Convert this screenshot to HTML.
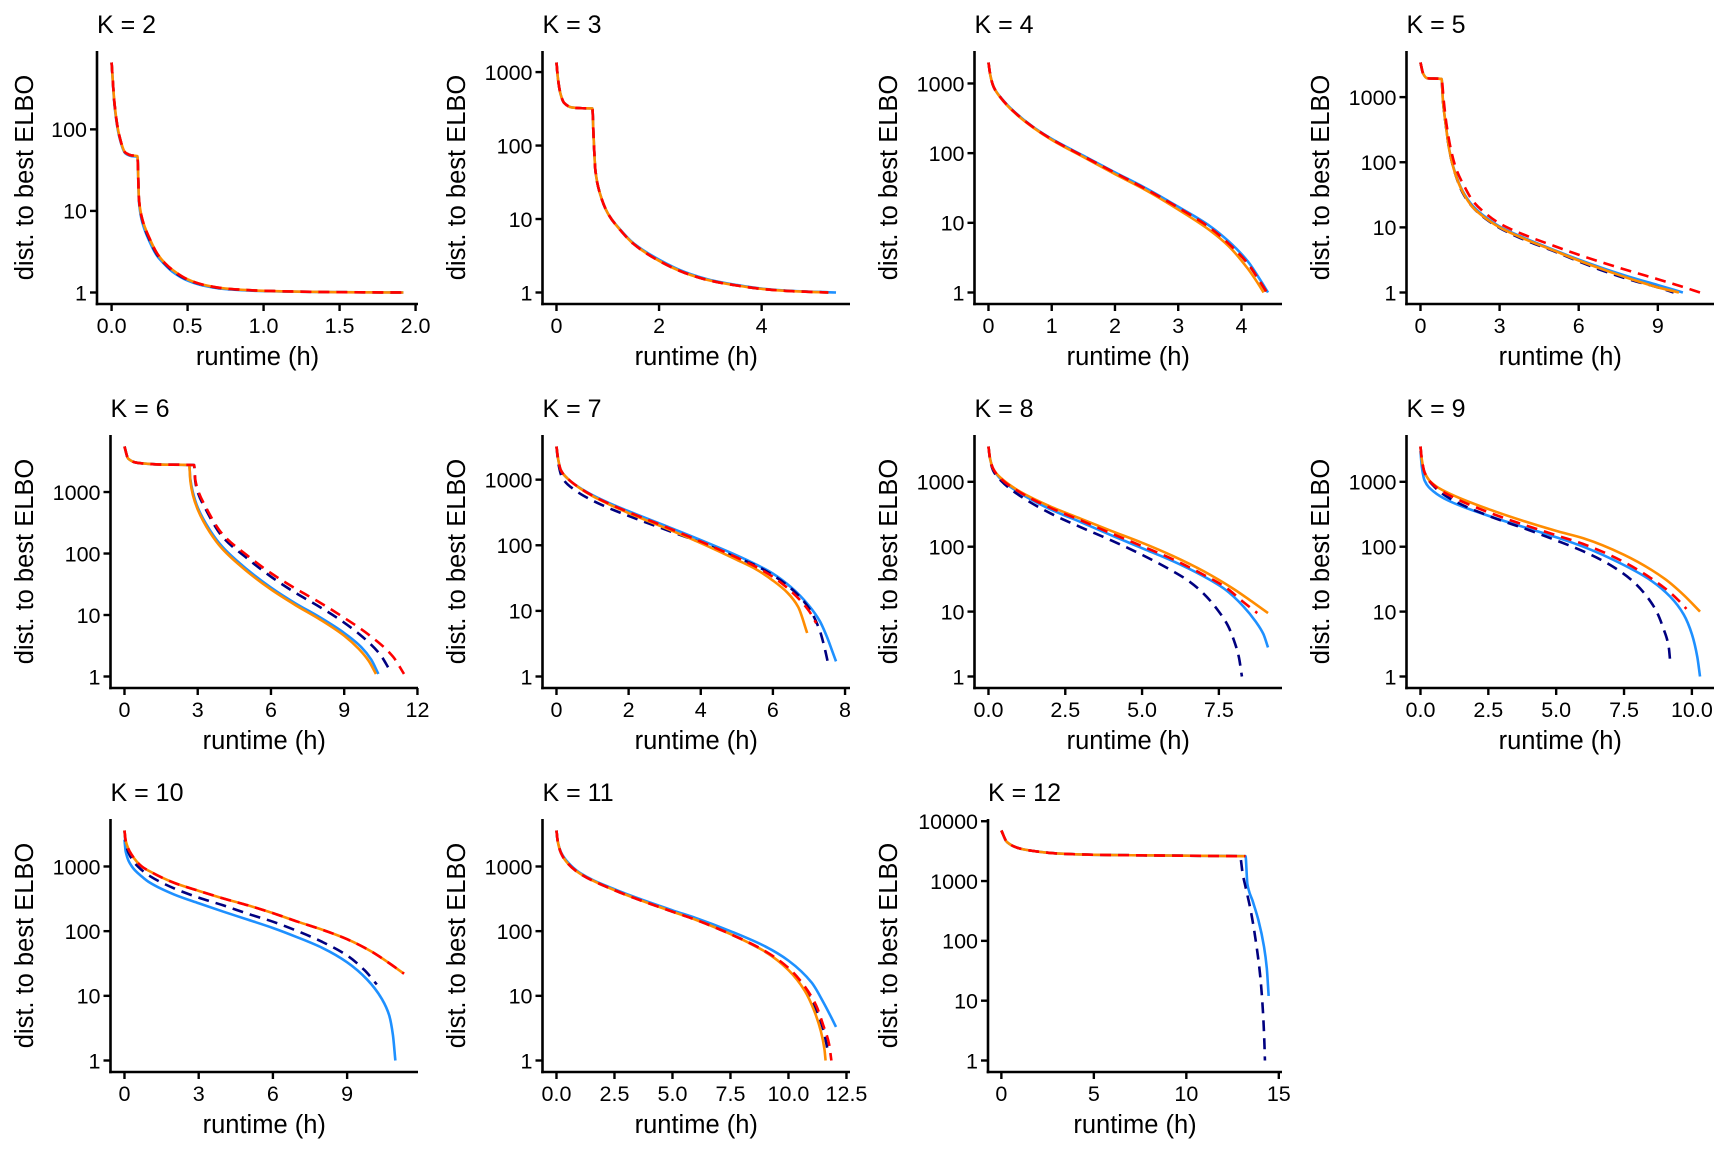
<!DOCTYPE html>
<html><head><meta charset="utf-8">
<style>
html,body{margin:0;padding:0;background:#fff;}
svg{display:block;font-family:"Liberation Sans",Arial,sans-serif;}
</style></head>
<body>
<svg id="chart" width="1728" height="1152" viewBox="0 0 1728 1152" xmlns="http://www.w3.org/2000/svg"></svg>
<script>
// ---- data: [runtime (h), distance to best ELBO] ----
const panelK = [2,3,4,5,6,7,8,9,10,11,12];
const xTicksList = [[0,0.5,1,1.5,2],[0,2,4],[0,1,2,3,4],[0,3,6,9],[0,3,6,9,12],[0,2,4,6,8],[0,2.5,5,7.5],[0,2.5,5,7.5,10],[0,3,6,9],[0,2.5,5,7.5,10,12.5],[0,5,10,15]];
const xTickLabels = [["0.0","0.5","1.0","1.5","2.0"],["0","2","4"],["0","1","2","3","4"],["0","3","6","9"],["0","3","6","9","12"],["0","2","4","6","8"],["0.0","2.5","5.0","7.5"],["0.0","2.5","5.0","7.5","10.0"],["0","3","6","9"],["0.0","2.5","5.0","7.5","10.0","12.5"],["0","5","10","15"]];
const yTickValues = [1,10,100,1000,10000];
const yTickLabels = ["1","10","100","1000","10000"];

const k2_blue=[[0,660],[0.02,190],[0.05,82],[0.09,51],[0.13,47],[0.17,46],[0.18,13],[0.2,7.5],[0.25,4.2],[0.3,2.8],[0.35,2.2],[0.4,1.8],[0.5,1.4],[0.6,1.22],[0.75,1.1],[1.0,1.04],[1.5,1.01],[1.92,1.0]];
const k2_navy=[[0,660],[0.02,200],[0.05,85],[0.09,52],[0.13,48],[0.17,47],[0.18,14],[0.2,8],[0.25,4.4],[0.3,2.9],[0.35,2.25],[0.4,1.85],[0.5,1.43],[0.6,1.24],[0.75,1.11],[1.0,1.05],[1.5,1.01],[1.92,1.0]];
const k2_orange=[[0,660],[0.02,200],[0.05,85],[0.09,52],[0.13,48],[0.17,47],[0.18,14],[0.2,8.2],[0.25,4.6],[0.3,3],[0.35,2.3],[0.4,1.9],[0.5,1.45],[0.6,1.25],[0.75,1.12],[1.0,1.05],[1.5,1.01],[1.92,1.0]];
const k2_red=k2_orange;

const k3_orange=[[0,1350],[0.03,800],[0.08,500],[0.15,380],[0.3,330],[0.5,322],[0.7,320],[0.72,150],[0.76,45],[0.85,22],[1.0,12],[1.25,7],[1.5,4.6],[2,2.7],[2.5,1.85],[3,1.45],[3.5,1.25],[4,1.12],[4.5,1.05],[5.3,1.0]];
const k3_blue=[[0,1350],[0.03,800],[0.08,500],[0.15,380],[0.3,330],[0.5,322],[0.7,320],[0.72,150],[0.76,45],[0.85,22],[1.0,12],[1.25,7.1],[1.5,4.7],[2,2.8],[2.5,1.9],[3,1.48],[3.5,1.27],[4,1.13],[4.5,1.06],[5.45,1.0]];
const k3_navy=k3_orange;
const k3_red=k3_orange;

const k4_blue=[[0,2000],[0.03,1300],[0.08,900],[0.2,620],[0.4,400],[0.7,240],[1,160],[1.5,92],[2,53],[2.5,31],[3,17],[3.5,9],[3.8,5.4],[4.1,2.8],[4.3,1.5],[4.42,1.0]];
const k4_orange=[[0,2000],[0.03,1300],[0.08,900],[0.2,610],[0.4,390],[0.7,235],[1,155],[1.5,88],[2,50],[2.5,29],[3,15.5],[3.5,7.8],[3.8,4.6],[4.1,2.2],[4.25,1.4],[4.35,1.0]];
const k4_navy=[[0,2000],[0.03,1300],[0.08,900],[0.2,615],[0.4,395],[0.7,238],[1,158],[1.5,90],[2,52],[2.5,30],[3,16.5],[3.5,8.5],[3.8,5],[4.1,2.6],[4.3,1.4],[4.4,1.0]];
const k4_red=k4_navy;

const k5_blue=[[0,3400],[0.1,2300],[0.25,1950],[0.8,1900],[0.85,900],[0.95,400],[1.1,150],[1.3,72],[1.6,36],[2,21],[2.5,14],[3,10.3],[4,6.7],[5,4.6],[6,3.2],[7,2.3],[8,1.7],[9,1.3],[9.95,1.0]];
const k5_navy=[[0,3400],[0.1,2300],[0.25,1950],[0.8,1900],[0.85,900],[0.95,400],[1.1,150],[1.3,70],[1.6,34],[2,20],[2.5,13.3],[3,9.8],[4,6.3],[5,4.4],[6,3.0],[7,2.1],[8,1.55],[9,1.2],[9.6,1.0]];
const k5_orange=[[0,3400],[0.1,2300],[0.25,1950],[0.8,1900],[0.85,900],[0.95,400],[1.1,150],[1.3,70],[1.6,35],[2,20],[2.5,13.5],[3,10],[4,6.5],[5,4.5],[6,3.1],[7,2.2],[8,1.6],[9,1.2],[9.8,1.0]];
const k5_red=[[0,3400],[0.1,2300],[0.25,1950],[0.8,1900],[0.88,900],[0.98,400],[1.15,160],[1.35,80],[1.7,40],[2,25],[2.5,16],[3,11.5],[4,7.5],[5,5.3],[6,3.8],[7,2.8],[8,2.1],[9,1.6],[10,1.2],[10.6,1.0]];

const k6_orange=[[0,5500],[0.15,3500],[0.5,3000],[1.5,2800],[2.65,2750],[2.7,1500],[2.8,900],[3,520],[3.5,220],[4,120],[5,52],[6,26],[7,14.5],[8,8.5],[9,4.6],[9.6,2.8],[10,1.8],[10.3,1.1]];
const k6_blue=[[0,5500],[0.15,3500],[0.5,3000],[1.5,2800],[2.65,2750],[2.7,1600],[2.8,1000],[3,560],[3.5,240],[4,130],[5,56],[6,28],[7,15.5],[8,9.2],[9,5.1],[9.7,3],[10.1,1.9],[10.4,1.1]];
const k6_navy=[[0,5500],[0.15,3500],[0.5,3000],[1.5,2800],[2.85,2750],[2.9,1500],[3.0,1000],[3.3,550],[4,190],[5,85],[6,42],[7,23],[8,13.5],[9,7.5],[10,3.6],[10.5,2.2],[10.85,1.3]];
const k6_red=[[0,5500],[0.15,3500],[0.5,3000],[1.5,2800],[2.85,2750],[2.9,1600],[3.0,1100],[3.3,600],[4,210],[5,95],[6,48],[7,27],[8,16],[9,9],[10,4.8],[11,2.1],[11.45,1.1]];

const k7_blue=[[0,3200],[0.05,2000],[0.12,1400],[0.3,1050],[0.6,780],[1,580],[1.5,430],[2,330],[3,200],[4,120],[5,70],[5.5,52],[6,37],[6.5,23],[7,12],[7.3,7],[7.5,4],[7.65,2.4],[7.75,1.7]];
const k7_navy=[[0,3200],[0.05,1800],[0.15,1100],[0.5,700],[1,480],[1.5,360],[2,280],[3,175],[4,110],[5,65],[5.5,50],[6,35],[6.5,22],[7,11],[7.3,5],[7.45,2.5],[7.55,1.4]];
const k7_orange=[[0,3200],[0.05,2000],[0.12,1400],[0.3,1050],[0.6,770],[1,560],[1.5,410],[2,310],[3,185],[4,108],[5,60],[5.5,44],[6,29],[6.4,19],[6.7,11.5],[6.95,4.6]];
const k7_red=[[0,3200],[0.05,2000],[0.12,1400],[0.3,1050],[0.6,775],[1,570],[1.5,420],[2,320],[3,193],[4,114],[5,65],[5.5,48],[6,33],[6.5,20],[7,10],[7.2,6.5]];

const k8_blue=[[0,3500],[0.05,2300],[0.15,1600],[0.4,1100],[1,680],[2,380],[3,240],[4,150],[5,95],[6,60],[7,35],[7.7,22],[8.3,12],[8.7,7],[8.95,4.5],[9.1,2.8]];
const k8_navy=[[0,3500],[0.05,2200],[0.15,1500],[0.4,1050],[1,620],[2,330],[3,200],[4,125],[5,75],[6,42],[6.5,30],[7,19],[7.5,10],[7.8,6],[8.0,3.5],[8.15,2],[8.25,1]];
const k8_orange=[[0,3500],[0.05,2300],[0.15,1600],[0.4,1150],[1,720],[2,420],[3,270],[4,175],[5,115],[6,72],[7,42],[8,22],[8.6,14],[9.1,9.5]];
const k8_red=[[0,3500],[0.05,2300],[0.15,1600],[0.4,1120],[1,700],[2,400],[3,255],[4,160],[5,102],[6,64],[7,37],[7.7,24],[8.3,14],[8.75,9.5]];

const k9_blue=[[0,3000],[0.05,1700],[0.15,1050],[0.5,700],[1,520],[2.5,300],[5,140],[6,100],[7.5,52],[8.5,30],[9.2,17],[9.7,9],[10,4.5],[10.2,2],[10.3,1]];
const k9_navy=[[0,3500],[0.05,2200],[0.15,1400],[0.5,850],[1,580],[2.5,300],[4,180],[5,125],[6,85],[7,52],[7.8,30],[8.3,18],[8.7,10],[8.95,5.5],[9.15,2.8],[9.2,1.7]];
const k9_orange=[[0,3500],[0.05,2200],[0.15,1400],[0.5,900],[1,680],[2.5,380],[5,175],[6,135],[7.5,75],[9,32],[9.7,18],[10.3,10]];
const k9_red=[[0,3500],[0.05,2200],[0.15,1400],[0.5,880],[1,640],[2.5,340],[5,150],[6,110],[7.5,58],[9,23],[9.5,15],[9.8,11]];

const k10_blue=[[0,2600],[0.05,1700],[0.3,1000],[0.7,700],[1,570],[2,370],[3,270],[4,200],[5,150],[6,112],[7,80],[8,55],[9,33],[9.8,18],[10.4,9],[10.7,5],[10.85,2.5],[10.95,1]];
const k10_navy=[[0,3600],[0.05,2300],[0.3,1300],[0.7,880],[1,720],[2,460],[3,330],[4,250],[5,185],[6,140],[7,100],[8,68],[9,42],[9.7,25],[10.2,15]];
const k10_orange=[[0,3600],[0.05,2500],[0.3,1500],[0.7,1000],[1,850],[2,560],[3,420],[4,320],[5,250],[6,190],[7,140],[8,105],[9,75],[10,48],[10.6,34],[11.3,22]];
const k10_red=k10_orange;

const k11_blue=[[0,3600],[0.05,2500],[0.2,1650],[0.5,1150],[1,800],[2.5,445],[5,210],[6,160],[7.5,100],[9,58],[10,35],[11,16],[11.5,8],[11.8,5],[12.05,3.3]];
const k11_navy=[[0,3600],[0.05,2500],[0.2,1600],[0.5,1100],[1,780],[2.5,430],[5,200],[6,150],[7.5,90],[9,48],[10,26],[10.7,13],[11.2,6],[11.5,3],[11.7,1.4]];
const k11_orange=[[0,3600],[0.05,2500],[0.2,1600],[0.5,1100],[1,780],[2.5,430],[5,200],[6,150],[7.5,90],[9,48],[10,25],[10.7,12],[11.1,6],[11.4,2.8],[11.55,1.5],[11.6,1.0]];
const k11_red=[[0,3600],[0.05,2500],[0.2,1600],[0.5,1100],[1,780],[2.5,430],[5,200],[6,150],[7.5,90],[9,49],[10,27],[10.7,14],[11.2,7],[11.5,3.5],[11.75,1.8],[11.85,1.0]];

const k12_blue=[[0,7000],[0.3,4500],[1,3500],[2,3100],[3,2900],[5,2750],[7,2700],[10,2650],[13.2,2600],[13.3,900],[13.6,450],[13.9,220],[14.2,80],[14.35,35],[14.45,12]];
const k12_navy=[[0,7000],[0.3,4500],[1,3500],[2,3100],[3,2900],[5,2750],[7,2700],[10,2650],[12.9,2600],[13.05,1300],[13.2,800],[13.5,300],[13.8,80],[14.0,25],[14.15,6],[14.22,2],[14.25,1]];
const k12_orange=[[0,7000],[0.3,4500],[1,3500],[2,3100],[3,2900],[5,2750],[7,2700],[10,2650],[13.2,2600]];
const k12_red=k12_orange;

const seriesByPanel = [
 [k2_blue,k2_navy,k2_orange,k2_red],[k3_blue,k3_navy,k3_orange,k3_red],[k4_blue,k4_navy,k4_orange,k4_red],
 [k5_blue,k5_navy,k5_orange,k5_red],[k6_blue,k6_navy,k6_orange,k6_red],[k7_blue,k7_navy,k7_orange,k7_red],
 [k8_blue,k8_navy,k8_orange,k8_red],[k9_blue,k9_navy,k9_orange,k9_red],[k10_blue,k10_navy,k10_orange,k10_red],
 [k11_blue,k11_navy,k11_orange,k11_red],[k12_blue,k12_navy,k12_orange,k12_red]];
const seriesNames = ["blue","navy","orange","red"];

// ---- styles ----
const colors = ["#1E90FF","#000080","#FF8C00","#FF0000"];
const dashes = [null,"11 7",null,"11 7"];
const NS = "http://www.w3.org/2000/svg";
const svg = document.getElementById("chart");
function mk(tag, attrs, parent){const e=document.createElementNS(NS,tag);for(const k in attrs)e.setAttribute(k,attrs[k]);(parent||svg).appendChild(e);return e;}

function monotonePath(pts){
  const n=pts.length; if(n<2) return "";
  const dx=[],m=[],t=[];
  for(let i=0;i<n-1;i++){dx.push(pts[i+1][0]-pts[i][0]);m.push((pts[i+1][1]-pts[i][1])/dx[i]);}
  t[0]=m[0];t[n-1]=m[n-2];
  for(let i=1;i<n-1;i++){ if(m[i-1]*m[i]<=0) t[i]=0; else {const w1=2*dx[i]+dx[i-1],w2=dx[i]+2*dx[i-1]; t[i]=(w1+w2)/(w1/m[i-1]+w2/m[i]);} }
  let d="M"+pts[0][0].toFixed(2)+","+pts[0][1].toFixed(2);
  for(let i=0;i<n-1;i++){
    const h=dx[i];
    d+="C"+(pts[i][0]+h/3).toFixed(2)+","+(pts[i][1]+t[i]*h/3).toFixed(2)+" "+(pts[i+1][0]-h/3).toFixed(2)+","+(pts[i+1][1]-t[i+1]*h/3).toFixed(2)+" "+pts[i+1][0].toFixed(2)+","+pts[i+1][1].toFixed(2);
  }
  return d;
}

panelK.forEach((K, idx) => {
  const col = idx % 4, row = Math.floor(idx / 4);
  const ox = col * 432, oy = row * 384;
  const series = seriesByPanel[idx];
  let xmax=-Infinity,xmin=Infinity,ymax=-Infinity,ymin=0;
  series.forEach(s=>s.forEach(p=>{xmax=Math.max(xmax,p[0]);xmin=Math.min(xmin,p[0]);ymax=Math.max(ymax,Math.log10(p[1]));ymin=Math.min(ymin,Math.log10(p[1]));}));
  const xr=xmax-xmin, yr=ymax-ymin;
  const x0=xmin-0.05*xr, x1=xmax+0.05*xr, y0=ymin-0.05*yr, y1=ymax+0.05*yr;
  const yt = yTickValues.map((v,i)=>({v,l:yTickLabels[i]})).filter(o=>Math.log10(o.v)>=y0&&Math.log10(o.v)<=y1);
  const maxLen = Math.max(...yt.map(o=>o.l.length));
  const left = ox + 97 + (maxLen-3)*13.5, right = ox + 418, top = oy + 51, bottom = oy + 304;
  const X = v => left + (v - x0) / (x1 - x0) * (right - left);
  const Y = v => bottom - (Math.log10(v) - y0) / (y1 - y0) * (bottom - top);

  const g = mk("g",{});
  
  

  const title = mk("text",{x:left,y:oy+33,"font-size":"25","fill":"#000"},g);
  title.textContent = "K = " + K;
  
  

  series.forEach((s,si)=>{
    const pts = s.map(p=>[X(p[0]),Y(p[1])]);
    const attrs = {d:monotonePath(pts),fill:"none",stroke:colors[si],"stroke-width":"2.6","stroke-linecap":"butt","stroke-linejoin":"round"};
    if(dashes[si]) attrs["stroke-dasharray"]=dashes[si];
    const p = mk("path",attrs,g);
    
    
  });

  const yAxis = mk("line",{x1:left,y1:top,x2:left,y2:bottom+1.3,stroke:"#000","stroke-width":"2.6"},g);
  
  
  const xAxis = mk("line",{x1:left-1.3,y1:bottom,x2:right,y2:bottom,stroke:"#000","stroke-width":"2.6"},g);
  
  

  yt.forEach(o=>{
    const y=Y(o.v);
    const tk = mk("line",{x1:left-7,y1:y,x2:left,y2:y,stroke:"#000","stroke-width":"2.4"},g);
    
    
    const tl = mk("text",{x:left-10,y:y+7.8,"font-size":"21.5","text-anchor":"end",fill:"#000"},g);
    tl.textContent=o.l;
    
    
  });
  xTicksList[idx].forEach((v,i)=>{
    const x=X(v);
    const tk = mk("line",{x1:x,y1:bottom,x2:x,y2:bottom+7,stroke:"#000","stroke-width":"2.4"},g);
    
    
    const tl = mk("text",{x:x,y:bottom+29,"font-size":"21.5","text-anchor":"middle",fill:"#000"},g);
    tl.textContent=xTickLabels[idx][i];
    
    
  });

  const xt = mk("text",{x:(left+right)/2,y:oy+365,"font-size":"25.5","text-anchor":"middle",fill:"#000"},g);
  xt.textContent="runtime (h)";
  
  
  const cy=(top+bottom)/2, cx=ox+33;
  const ytl = mk("text",{x:cx,y:cy,"font-size":"25.5","text-anchor":"middle",fill:"#000",transform:"rotate(-90 "+cx+" "+cy+")"},g);
  ytl.textContent="dist. to best ELBO";
  
  
});
</script>
</body></html>
